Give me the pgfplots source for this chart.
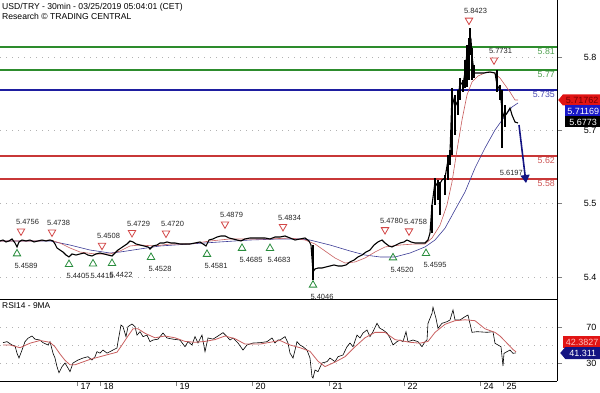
\documentclass[border=0pt]{standalone}
\usepackage{fontspec}
\setmainfont{Liberation Sans}
\usepackage{pgfplots}
\pgfplotsset{compat=1.18}
\usetikzlibrary{arrows.meta,shapes.symbols}
\definecolor{lvlgreen}{RGB}{45,140,45}
\definecolor{lvlgreentxt}{RGB}{80,160,80}
\definecolor{lvlblue}{RGB}{30,30,160}
\definecolor{lvlred}{RGB}{200,55,55}
\definecolor{lvlredtxt}{RGB}{205,85,85}
\definecolor{mared}{RGB}{200,95,95}
\definecolor{mablue}{RGB}{60,60,150}
\definecolor{trired}{RGB}{210,70,70}
\definecolor{trigreen}{RGB}{40,140,60}
\definecolor{navyb}{RGB}{20,20,130}
\definecolor{boxred}{RGB}{225,20,20}
\definecolor{boxblue}{RGB}{25,25,200}

\begin{document}
\begin{tikzpicture}
\useasboundingbox (0,0) rectangle (600pt,392pt);
\node[anchor=north west, inner sep=0pt, font=\fontsize{8.6}{10}\selectfont] at (2pt,389pt) {USD/TRY - 30min - 03/25/2019 05:04:01 (CET)};
\node[anchor=north west, inner sep=0pt, font=\fontsize{8.6}{10}\selectfont] at (2pt,379pt) {Research \textcopyright\ TRADING CENTRAL};

% ---------------- main price panel ----------------
\begin{axis}[at={(0pt,392pt)}, anchor=north west, scale only axis,
  width=557pt, height=299pt,
  xmin=0, xmax=557, ymin=5.3715, ymax=5.8915,
  axis x line=none, axis y line*=right,
  xtick=\empty,
  ytick={5.4098,5.5385,5.6654,5.7924}, yticklabels={5.4,5.5,5.7,5.8},
  tick align=outside, major tick length=5pt,
  ymajorgrids, grid style={gray!60, dash pattern=on 1pt off 5pt},
  yticklabel style={anchor=east, xshift=38pt, font=\fontsize{9}{10}\selectfont},
  /pgf/number format/assume math mode=true,
  clip=false]
% level lines
\addplot[lvlgreen, line width=1.4pt] coordinates {(0,5.81) (557,5.81)};
\addplot[lvlgreen, line width=1.4pt] coordinates {(0,5.77) (557,5.77)};
\addplot[lvlblue, line width=1.4pt] coordinates {(0,5.735) (557,5.735)};
\addplot[lvlred, line width=1.4pt] coordinates {(0,5.62) (557,5.62)};
\addplot[lvlred, line width=1.4pt] coordinates {(0,5.58) (557,5.58)};
% slow MA
\addplot[mablue, line width=0.6pt] coordinates {
(0,5.4724) (30,5.4724) (50,5.4724) (70,5.4654) (90,5.4567) (110,5.4515) (120,5.4532)
(140,5.4585) (160,5.4637) (190,5.4672) (220,5.4707) (250,5.4741) (280,5.4759) (300,5.4759)
(310,5.4741) (330,5.4654) (350,5.4550) (365,5.4480) (380,5.4446) (395,5.4446) (410,5.4515)
(425,5.4620) (435,5.4741) (445,5.4946) (455,5.5263) (465,5.5576) (475,5.5993) (485,5.6341)
(495,5.6654) (505,5.6898) (512,5.7054) (518,5.7124)};
% fast MA
\addplot[mared, line width=0.6pt] coordinates {
(0,5.4724) (20,5.4724) (40,5.4724) (50,5.4741) (60,5.4689) (70,5.4602) (80,5.4532) (95,5.4498)
(110,5.4498) (120,5.4550) (130,5.4637) (140,5.4654) (155,5.4637) (170,5.4672) (190,5.4672)
(210,5.4724) (230,5.4759) (250,5.4759) (270,5.4759) (290,5.4776) (305,5.4741) (315,5.4672)
(325,5.4550) (335,5.4428) (345,5.4341) (355,5.4359) (365,5.4428) (375,5.4532) (385,5.4620)
(400,5.4654) (415,5.4672) (425,5.4672) (432,5.4776) (440,5.4998) (447,5.5350) (452,5.5750)
(457,5.6306) (462,5.6828) (467,5.7263) (472,5.7489) (478,5.7593) (487,5.7663) (494,5.7646)
(500,5.7558) (505,5.7437) (510,5.7315) (515,5.7176) (518,5.7176)};
% price (closes)
\addplot[black, line width=1.1pt] coordinates {
(0,5.4724) (3,5.4741) (6,5.4707) (9,5.4724) (12,5.4759) (15,5.4689) (17,5.4620) (19,5.4707)
(22,5.4741) (26,5.4724) (30,5.4741) (34,5.4707) (38,5.4724) (42,5.4741) (46,5.4724) (50,5.4741)
(53,5.4724) (55,5.4672) (57,5.4602) (60,5.4567) (63,5.4532) (66,5.4480) (69,5.4446) (72,5.4498)
(76,5.4480) (80,5.4498) (84,5.4515) (88,5.4480) (92,5.4463) (96,5.4498) (100,5.4515) (104,5.4498)
(108,5.4480) (112,5.4463) (115,5.4515) (118,5.4567) (121,5.4602) (124,5.4637) (127,5.4672)
(130,5.4724) (133,5.4707) (136,5.4672) (140,5.4654) (144,5.4637) (148,5.4620) (150,5.4585)
(153,5.4637) (157,5.4654) (160,5.4689) (164,5.4689) (167,5.4707) (171,5.4689) (175,5.4689)
(180,5.4672) (185,5.4672) (190,5.4672) (195,5.4689) (200,5.4707) (203,5.4672) (206,5.4637)
(209,5.4741) (213,5.4759) (217,5.4793) (221,5.4811) (225,5.4811) (229,5.4776) (233,5.4759)
(237,5.4741) (241,5.4724) (245,5.4759) (250,5.4776) (255,5.4776) (260,5.4776) (265,5.4776)
(270,5.4759) (275,5.4793) (280,5.4793) (285,5.4811) (290,5.4776) (295,5.4741) (300,5.4759)
(305,5.4776) (309,5.4724) (311,5.4654) (313,5.4185) (315,5.4237) (318,5.4254) (322,5.4254)
(326,5.4272) (330,5.4289) (334,5.4307) (338,5.4289) (342,5.4289) (346,5.4307) (350,5.4359)
(354,5.4393) (358,5.4446) (362,5.4480) (366,5.4532) (370,5.4567) (374,5.4654) (378,5.4707)
(382,5.4741) (385,5.4689) (389,5.4637) (392,5.4620) (396,5.4654) (400,5.4689) (404,5.4707)
(407,5.4741) (411,5.4707) (415,5.4689) (420,5.4689) (425,5.4689) (428,5.4741) (430,5.4863)
(432,5.5350) (435,5.5750) (438,5.5663) (442,5.5785) (445,5.5819) (448,5.6133) (450,5.6254)
(452,5.7263) (455,5.7054) (458,5.7176) (460,5.7489) (463,5.7437) (465,5.7663) (467,5.8011)
(469,5.8133) (471,5.8220) (472,5.7959) (474,5.7646) (478,5.7646) (484,5.7646) (490,5.7663)
(495,5.7646) (497,5.7437) (500,5.7350) (502,5.7002) (504,5.6880) (507,5.6950) (510,5.7037)
(512,5.6915) (515,5.6793) (518,5.6776)};
% high-low ranges of the larger candles
\addplot[black, line width=1.1pt, unbounded coords=jump] coordinates {
(313,5.4654) (313,5.4046) (313,nan)
(432,5.5350) (432,5.4863) (432,nan)
(435,5.5819) (435,5.5350) (435,nan)
(438,5.5785) (438,5.5437) (438,nan)
(440,5.5750) (440,5.5176) (440,nan)
(445,5.5872) (445,5.5524) (445,nan)
(448,5.6219) (448,5.5785) (448,nan)
(450,5.6306) (450,5.6045) (450,nan)
(452,5.7385) (452,5.6219) (452,nan)
(455,5.7263) (455,5.6567) (455,nan)
(458,5.7350) (458,5.6915) (458,nan)
(460,5.7558) (460,5.7176) (460,nan)
(463,5.7524) (463,5.7315) (463,nan)
(465,5.7871) (465,5.7385) (465,nan)
(467,5.8133) (467,5.7402) (467,nan)
(469,5.8254) (469,5.7524) (469,nan)
(470,5.8423) (470,5.7959) (470,nan)
(472,5.8080) (472,5.7524) (472,nan)
(474,5.7785) (474,5.7558) (474,nan)
(497,5.7698) (497,5.7315) (497,nan)
(500,5.7437) (500,5.7176) (500,nan)
(502,5.7350) (502,5.6341) (502,nan)
(505,5.7089) (505,5.6706)};
% swing highs
\addplot[only marks, mark=triangle, mark size=4.3pt,
  mark options={draw=trired, line width=0.8pt, yshift=8pt, rotate=180},
  nodes near coords, point meta=explicit symbolic,
  nodes near coords style={anchor=center, xshift=6.5pt, yshift=9pt, inner sep=0pt,
    font=\fontsize{7.5}{8}\selectfont, text=black!85}]
  table[meta=lab] {
x y lab
21 5.4756 5.4756
52 5.4738 5.4738
102 5.4508 5.4508
132 5.4729 5.4729
166 5.4720 5.4720
225 5.4879 5.4879
283 5.4834 5.4834
385 5.4780 5.4780
409 5.4758 5.4758
469 5.8423 5.8423
494 5.7731 5.7731
};
% swing lows
\addplot[only marks, mark=triangle, mark size=4.3pt,
  mark options={draw=trigreen, line width=0.8pt, yshift=-5pt},
  nodes near coords, point meta=explicit symbolic,
  nodes near coords style={anchor=center, xshift=9pt, yshift=-12pt, inner sep=0pt,
    font=\fontsize{7.5}{8}\selectfont, text=black!85}]
  table[meta=lab] {
x y lab
17 5.4589 5.4589
69 5.4405 5.4405
93 5.4415 5.4415
112 5.4422 5.4422
151 5.4528 5.4528
207 5.4581 5.4581
242 5.4685 5.4685
270 5.4683 5.4683
313 5.4046 5.4046
393 5.4520 5.4520
426 5.4595 5.4595
};
% forecast arrow
\addplot[navyb, line width=1.6pt, -{Triangle[length=8pt,width=9pt]}] coordinates {(519,5.6741) (526,5.5732)};
% labels
\node[anchor=north east, inner sep=1pt, text=lvlgreentxt, font=\fontsize{8.8}{9}\selectfont] at (axis cs:556,5.81) {5.81};
\node[anchor=north east, inner sep=1pt, text=lvlgreentxt, font=\fontsize{8.8}{9}\selectfont] at (axis cs:556,5.77) {5.77};
\node[anchor=north east, inner sep=1pt, text=lvlblue!80, font=\fontsize{8.8}{9}\selectfont] at (axis cs:556,5.735) {5.735};
\node[anchor=north east, inner sep=1pt, text=lvlredtxt, font=\fontsize{8.8}{9}\selectfont] at (axis cs:556,5.62) {5.62};
\node[anchor=north east, inner sep=1pt, text=lvlredtxt, font=\fontsize{8.8}{9}\selectfont] at (axis cs:556,5.58) {5.58};
\node[anchor=east, inner sep=0pt, text=black!85, font=\fontsize{7.5}{8}\selectfont] at (axis cs:523,5.5906) {5.6197};
% last-value boxes
\node[signal, signal to=west, signal pointer angle=100, fill=boxred, anchor=west, inner sep=1pt,
  minimum height=11pt, minimum width=43pt, text=red!45!black, font=\fontsize{9}{10}\selectfont] at (axis cs:558,5.7176) {5.71762};
\node[rectangle, fill=boxblue, anchor=west, inner sep=1pt,
  minimum height=11pt, minimum width=36pt, text=white, font=\fontsize{9}{10}\selectfont] at (axis cs:565,5.6985) {5.71169};
\node[rectangle, fill=black, anchor=west, inner sep=1pt,
  minimum height=11pt, minimum width=36pt, text=white, font=\fontsize{9}{10}\selectfont] at (axis cs:565,5.6794) {5.6773};
\end{axis}

% ---------------- RSI panel ----------------
\begin{axis}[at={(0pt,93pt)}, anchor=north west, scale only axis,
  width=557pt, height=82pt,
  xmin=0, xmax=557, ymin=10, ymax=101.1,
  axis x line*=box, axis y line*=right,
  xtick={77,100,176,252,329,404,480,503}, xticklabels={17,18,19,20,21,22,24,25},
  xtick pos=left,
  ytick={30,70}, ytick pos=right,
  extra y ticks={50}, extra y tick labels={}, extra y tick style={major tick length=0pt},
  tick align=outside, major tick length=5pt,
  ymajorgrids, grid style={gray!60, dash pattern=on 1pt off 5pt},
  yticklabel style={anchor=east, xshift=38pt, font=\fontsize{9}{10}\selectfont},
  xticklabel style={anchor=north west, yshift=6pt, xshift=0pt, font=\fontsize{9}{10}\selectfont},
  /pgf/number format/assume math mode=true,
  clip=false]
\addplot[black, line width=0.6pt] coordinates {
(3,52.6) (7,53.7) (12,50) (15,49) (17,41) (19,35.5) (22,44.4) (25,53.7) (28,57.5) (32,60)
(35,56.5) (40,55.5) (43,52.6) (48,50) (50,53.7) (53,41) (55,35.5) (57,25.9) (59,19.2) (62,25.9)
(65,30) (68,24.4) (70,20.4) (73,30) (78,33.3) (83,35.5) (88,37) (92,33.3) (95,37) (97,42.6)
(100,41) (103,44.4) (107,41) (110,42.6) (113,44.4) (117,46.7) (118,53.7) (121,72.2) (123,70.4)
(126,59.3) (128,70.4) (132,73.3) (135,70.4) (137,61) (140,64.8) (143,59.3) (147,61) (150,53.7)
(153,55.5) (158,56.5) (163,63.3) (167,57.8) (173,56.5) (180,55.5) (185,48.1) (188,53.7) (192,50)
(195,59.3) (198,52.2) (202,61) (205,42.6) (208,57.8) (213,56.5) (218,60) (223,63.7) (227,59.3)
(230,55.5) (233,57.8) (238,52.2) (243,44.4) (247,50) (253,52.2) (260,52.6) (267,53.7) (272,57.8)
(275,52.2) (278,55.5) (280,55.5) (285,59.3) (288,52.2) (290,41) (293,35.5) (295,44.4) (297,53.7)
(300,50) (303,48.1) (307,44.4) (310,35.5) (312,14.8) (313,13.3) (315,22.2) (318,20.4) (322,30)
(327,31.5) (330,35.5) (335,31.5) (338,37) (343,38.9) (347,48.1) (350,52.2) (353,48.1) (357,61)
(360,57.8) (363,63.3) (367,66.7) (370,59.3) (373,64.8) (377,74.1) (380,68.5) (383,66.7) (387,63.3)
(390,57.8) (393,50) (397,53.7) (400,55.5) (403,53.7) (406,64.8) (408,53.7) (413,55.5) (418,53.7)
(422,48.1) (425,53.7) (427,55.5) (428,74.1) (432,85.2) (433,91.9) (436,79.6) (438,68.5) (442,74.1)
(447,75.9) (450,77.8) (452,85.2) (453,88.9) (455,77.8) (460,77.8) (465,81.5) (468,83.3) (472,64.1)
(477,64.8) (487,64.1) (493,64.8) (495,51.9) (498,50) (501,48.1) (503,26.7) (504,40.7) (507,42.6)
(510,44.4) (513,40.7) (516,41.3)};
\addplot[mared, line width=0.8pt] coordinates {
(3,50) (10,50) (20,47) (30,52) (40,55) (50,53) (55,48) (60,40) (65,33) (70,28) (75,28) (80,30)
(90,34) (100,37) (110,40) (117,42) (122,50) (128,60) (133,68) (138,68) (145,63) (155,58) (165,60)
(175,58) (185,54) (195,53) (205,54) (215,56) (225,60) (235,57) (245,51) (260,51) (270,53) (280,55)
(290,50) (300,47) (310,43) (318,32) (325,26) (335,31) (345,37) (355,48) (365,58) (375,64) (385,64)
(395,56) (410,53) (420,52) (428,54) (435,64) (445,73) (455,77) (465,78) (475,77) (485,68) (495,64)
(500,60) (507,52) (513,45) (516,42.4)};
\node[anchor=west, inner sep=0pt, font=\fontsize{8.4}{9}\selectfont] at (axis cs:2,93.3) {RSI14 - 9MA};
\node[rectangle, fill=boxred, anchor=west, inner sep=1pt,
  minimum height=12pt, minimum width=38pt, text=white!75!red, font=\fontsize{9}{10}\selectfont] at (axis cs:563,52.8) {42.3827};
\node[signal, signal to=west, signal pointer angle=100, fill=navyb, anchor=west, inner sep=1pt,
  minimum height=12pt, minimum width=40pt, text=white, font=\fontsize{9}{10}\selectfont] at (axis cs:560,41.1) {41.311};
\end{axis}
\end{tikzpicture}
\end{document}
